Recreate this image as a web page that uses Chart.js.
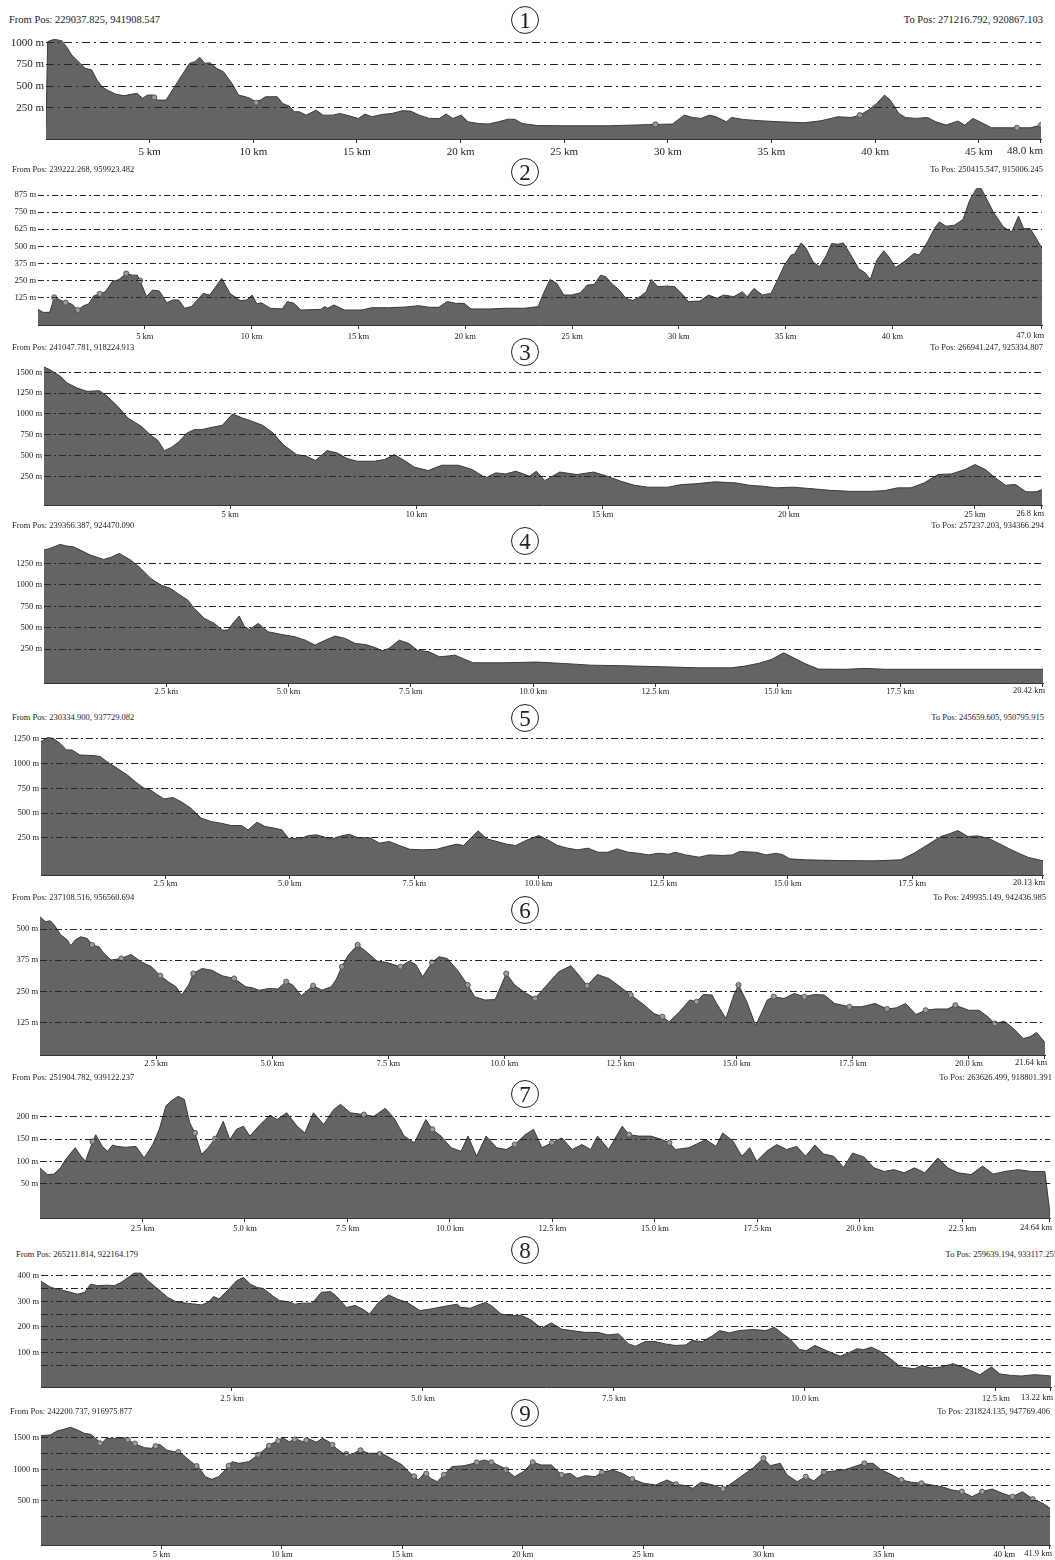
<!DOCTYPE html>
<html>
<head>
<meta charset="utf-8">
<script src="https://cdn.jsdelivr.net/npm/chart.js@4.4.0/dist/chart.umd.min.js"></script>
<style>
  body { margin: 0; background: #fff; width: 1055px; height: 1560px; position: relative; overflow: hidden;
         font-family: "Liberation Serif", "DejaVu Serif", serif; color: #222; }
  .pos { position: absolute; white-space: nowrap; line-height: 1; }
  .num { position: absolute; width: 26px; height: 26px; border: 1.3px solid #222; border-radius: 50%;
         text-align: center; line-height: 27px; font-size: 23px; }
  canvas { position: absolute; left: 0; }
</style>
</head>
<body>
<script>
// profile 1
const km1 = [0,0.08,0.18,0.42,0.75,0.99,1.24,1.56,1.89,2.21,2.46,2.70,2.95,3.35,3.76,4.17,4.41,4.65,4.90,5.14,
  5.39,5.79,6.20,6.61,6.93,7.18,7.42,7.66,7.91,8.23,8.56,8.97,9.29,9.62,9.86,10.10,10.35,10.59,10.84,11.16,
  11.41,11.73,11.98,12.22,12.55,13.03,13.36,13.85,14.17,14.66,15.07,15.39,15.72,16.21,16.70,17.18,17.59,18.00,18.49,18.98,
  19.30,19.63,20.03,20.36,20.85,21.33,21.82,22.31,22.64,22.96,23.70,25.00,27.12,29.40,30.22,30.79,31.19,31.60,32.01,32.33,
  32.82,33.07,33.64,34.45,35.43,36.57,37.39,38.20,38.85,39.26,39.67,40.08,40.45,40.73,41.14,41.46,41.95,42.52,42.93,43.42,
  43.99,44.32,44.72,45.05,45.62,46.84,47.49,48.00];
const elev1 = [40,1010,1023,1038,1023,954,858,781,704,685,569,492,454,408,388,408,415,358,396,396,
  338,338,492,646,762,781,831,762,769,704,665,531,396,377,358,319,338,377,377,377,
  300,269,204,204,165,223,165,165,185,154,127,177,146,173,185,215,212,165,127,127,
  177,127,165,88,69,62,88,119,115,69,45,42,42,58,62,165,138,127,165,146,
  88,138,115,100,88,77,100,146,138,165,223,300,396,338,185,138,127,138,88,50,
  96,50,127,88,19,19,19,50];
const wpKm1 = [5.22,10.14,29.40,39.26,46.84,48.00];
const wpElev1 = [369,308,58,165,19,50];

// profile 2
const km2 = [0,0.24,0.55,0.76,1.03,1.29,1.58,1.86,2.13,2.37,2.60,2.89,3.15,3.47,3.79,4.13,4.42,4.65,4.78,5.08,
  5.36,5.68,6.03,6.31,6.59,6.86,7.18,7.73,8.04,8.60,8.99,9.46,9.78,10.02,10.25,10.44,10.88,11.44,11.67,11.99,
  12.30,13.25,13.41,13.56,13.85,14.35,15.14,15.62,16.40,17.19,17.82,18.30,18.77,19.16,19.56,19.95,20.27,21.14,21.92,
  22.79,23.42,23.66,23.97,24.29,24.61,25.00,25.39,25.71,26.03,26.34,26.58,26.89,27.21,27.52,27.84,28.23,28.47,28.71,29.02,
  29.42,29.81,30.21,30.44,30.99,31.39,31.78,32.10,32.57,32.97,33.20,33.52,33.91,34.31,34.62,34.94,35.25,35.41,35.73,35.96,
  36.28,36.59,36.91,37.15,37.46,37.70,38.01,38.41,38.72,38.96,39.27,39.59,39.83,40.14,40.54,41.01,41.25,41.64,41.96,42.19,
  42.51,42.90,43.30,43.61,43.93,44.16,44.40,44.72,45.19,45.58,45.90,46.14,46.45,46.69,47.00];
const elev2 = [37,15,15,125,106,86,76,32,64,76,135,150,166,239,256,300,288,288,247,130,
  179,171,86,106,106,45,57,154,142,264,154,101,106,142,76,86,45,40,94,81,
  32,37,57,45,69,32,32,49,49,54,64,52,52,94,81,81,40,40,45,
  45,57,154,256,227,142,142,159,215,220,288,276,222,179,118,101,135,166,256,203,
  208,203,142,94,98,142,118,142,130,166,130,190,142,154,252,361,435,442,525,484,
  386,350,435,520,515,525,447,337,305,256,399,467,423,344,386,447,435,532,630,679,
  647,655,696,837,923,923,850,752,642,606,721,630,630,569,484];
const wpKm2 = [0.76,1.29,1.86,2.89,4.13,4.78];
const wpElev2 = [125,86,32,150,300,247];

// profile 3
const km3 = [0,0.16,0.44,0.62,0.89,1.16,1.49,1.70,1.98,2.25,2.61,2.88,3.06,3.23,3.43,3.61,3.84,4.03,4.24,4.51,
  4.79,5.06,5.33,5.60,5.87,6.15,6.42,6.78,7.05,7.29,7.60,7.87,8.14,8.41,8.87,9.14,9.41,9.68,9.95,10.32,
  10.68,11.13,11.50,11.86,12.13,12.40,12.67,13.04,13.22,13.45,13.85,14.31,14.76,15.12,15.49,15.85,16.21,16.75,17.12,17.48,
  18.02,18.57,18.93,19.29,19.66,20.11,20.56,21.11,21.65,22.19,22.56,22.92,23.28,23.64,24.01,24.37,24.73,25.00,25.28,25.55,
  25.82,26.09,26.37,26.64,26.80];
const elev3 = [1564,1532,1452,1372,1311,1271,1279,1211,1091,951,851,740,680,558,600,660,770,811,811,839,
  863,999,951,909,863,771,631,511,491,439,559,531,463,431,431,451,511,439,359,319,
  383,383,331,231,291,279,311,251,311,199,301,271,301,251,191,143,119,119,151,159,
  183,171,143,131,111,119,103,81,69,69,77,111,111,171,271,279,331,391,331,231,
  143,151,63,63,89];

// profile 4
const km4 = [0,0.12,0.33,0.47,0.60,0.74,0.95,1.22,1.36,1.54,1.77,1.98,2.18,2.39,2.59,2.73,2.94,3.07,3.28,3.48,
  3.65,3.76,3.87,3.99,4.10,4.20,4.38,4.58,4.86,5.13,5.34,5.54,5.75,5.95,6.16,6.36,6.57,6.78,6.91,7.05,
  7.26,7.46,7.63,7.87,8.08,8.29,8.40,8.56,8.77,9.38,10.07,10.62,11.17,11.85,12.67,13.36,14.05,14.32,14.60,14.87,
  15.12,15.35,15.55,15.83,16.38,16.79,17.20,18.30,19.40,20.42];
const elev4 = [1406,1425,1472,1452,1445,1406,1347,1297,1320,1367,1289,1192,1075,997,958,900,822,725,608,550,
  472,472,558,636,511,480,550,453,421,394,355,297,355,402,375,316,304,266,231,258,
  355,316,238,219,161,172,180,141,91,91,99,83,63,56,44,32,32,52,83,130,
  207,141,83,17,15,25,15,15,15,15];

// profile 5
const km5 = [0,0.14,0.24,0.38,0.51,0.62,0.78,1.05,1.19,1.32,1.53,1.73,1.93,2.07,2.20,2.34,2.47,2.65,2.81,3.01,
  3.22,3.42,3.62,3.82,4.03,4.16,4.34,4.50,4.70,4.84,4.97,5.18,5.38,5.54,5.72,5.85,5.99,6.19,6.39,6.59,
  6.80,7.00,7.20,7.41,7.68,7.95,8.15,8.35,8.49,8.62,8.78,8.96,9.16,9.36,9.54,9.77,10.00,10.18,10.38,10.58,
  10.78,10.99,11.19,11.39,11.57,11.80,12.00,12.20,12.41,12.61,12.74,12.95,13.22,13.42,13.69,13.89,14.03,14.36,14.57,14.77,
  14.91,15.04,15.38,16.05,16.73,17.27,17.54,17.81,18.08,18.28,18.42,18.62,18.82,19.03,19.23,19.43,19.64,19.84,20.13];
const elev5 = [1223,1264,1257,1206,1139,1139,1088,1082,1072,1021,954,887,803,752,735,685,644,658,617,550,
  449,415,398,375,375,331,409,365,348,331,247,240,274,281,254,240,264,287,247,254,
  197,213,173,135,129,135,163,186,173,240,321,240,213,186,173,230,274,230,173,146,
  129,146,105,105,139,105,95,78,95,85,105,78,55,78,72,78,112,105,78,95,
  78,38,28,21,18,28,95,180,264,297,324,264,270,247,197,146,95,52,18];

// profile 6
const km6 = [0,0.12,0.22,0.30,0.44,0.59,0.66,0.76,0.88,1.02,1.12,1.27,1.38,1.53,1.75,1.96,2.18,2.40,2.59,2.76,
  2.93,3.05,3.20,3.30,3.49,3.70,3.92,4.18,4.43,4.57,4.72,4.93,5.12,5.30,5.44,5.63,5.88,6.07,6.27,6.38,
  6.50,6.64,6.84,7.03,7.25,7.47,7.76,7.95,8.09,8.24,8.44,8.59,8.77,8.99,9.21,9.36,9.58,9.80,10.04,10.22,
  10.44,10.66,10.88,11.17,11.43,11.60,11.78,12.00,12.25,12.54,12.72,12.97,13.22,13.40,13.55,13.77,13.99,14.14,14.28,14.47,
  14.57,14.77,14.94,15.04,15.22,15.41,15.66,15.80,16.02,16.24,16.46,16.67,16.89,17.11,17.43,17.69,17.98,18.24,18.45,18.64,
  18.86,19.07,19.28,19.54,19.71,20.00,20.22,20.41,20.56,20.76,20.96,21.17,21.32,21.46,21.64];
const elev6 = [549,529,533,518,478,456,433,456,469,462,436,429,402,376,382,398,369,349,313,289,
  269,236,276,322,342,335,313,302,269,265,255,262,260,289,276,233,273,255,269,299,
  349,396,436,409,372,366,349,372,358,309,366,389,382,335,276,229,216,218,322,276,
  246,222,269,329,353,316,273,318,302,262,236,202,162,149,129,169,216,209,238,236,
  202,142,236,276,209,113,216,229,222,242,229,238,236,202,189,189,202,180,185,202,
  158,175,180,180,195,175,175,149,122,131,102,62,69,86,46];
const wpKm6 = [1.12,1.75,2.59,3.30,4.18,5.30,5.88,6.50,6.84,7.76,8.44,9.21,10.04,10.66,11.78,12.72,13.40,14.14,15.04,15.80,16.46,17.43,18.24,19.07,19.71,20.56];
const wpElev6 = [436,382,313,322,302,289,273,349,436,349,366,276,322,222,273,236,149,209,276,229,229,189,180,175,195,122];

// profile 7
const km7 = [0,0.18,0.34,0.50,0.62,0.75,0.86,1.00,1.11,1.24,1.36,1.52,1.65,1.77,1.88,2.09,2.34,2.54,2.75,2.91,
  3.07,3.19,3.37,3.52,3.65,3.78,3.94,4.10,4.27,4.47,4.63,4.79,4.96,5.12,5.37,5.61,5.78,6.02,6.27,6.46,
  6.67,6.92,7.16,7.33,7.57,7.90,8.14,8.42,8.63,8.88,9.13,9.41,9.57,9.78,10.03,10.27,10.44,10.65,10.88,11.14,
  11.37,11.58,11.83,12.04,12.24,12.49,12.73,12.98,13.22,13.43,13.60,13.87,14.20,14.37,14.61,14.90,15.18,15.35,15.50,15.83,
  16.24,16.49,16.65,16.90,17.12,17.31,17.48,17.72,17.97,18.21,18.46,18.67,18.90,19.11,19.36,19.60,19.82,20.10,20.34,20.59,
  20.83,21.08,21.33,21.58,21.90,22.14,22.39,22.71,22.99,23.25,23.53,23.86,24.18,24.51,24.64];
const elev7 = [86,71,72,86,104,119,131,112,101,134,160,134,123,137,134,132,134,108,138,172,
  224,235,246,239,187,164,116,131,151,190,149,172,179,157,183,204,194,209,179,164,
  209,183,216,228,209,205,201,219,198,157,142,194,172,157,131,123,157,112,157,131,
  127,138,160,172,131,142,153,127,138,127,157,127,179,160,157,157,149,142,127,131,
  149,134,164,146,112,131,101,123,138,127,134,112,137,117,112,87,119,110,86,78,
  82,75,86,75,108,86,75,71,90,72,78,82,78,78,-20];
const wpKm7 = [1.28,3.78,4.27,7.90,9.57,11.58,12.49,14.37,15.35];
const wpElev7 = [145,164,151,205,172,138,142,160,142];

// profile 8
const km8 = [0,0.13,0.26,0.39,0.48,0.57,0.65,0.74,0.87,0.96,1.05,1.14,1.22,1.31,1.40,1.53,1.66,1.77,1.93,2.10,
  2.19,2.26,2.33,2.46,2.56,2.65,2.74,2.83,2.91,3.03,3.12,3.25,3.32,3.42,3.55,3.67,3.79,3.86,4.00,4.11,
  4.22,4.30,4.42,4.55,4.66,4.79,4.96,5.10,5.27,5.45,5.49,5.62,5.71,5.82,5.91,6.02,6.15,6.28,6.41,6.55,
  6.68,6.81,6.94,7.12,7.29,7.42,7.56,7.69,7.78,7.91,8.04,8.17,8.30,8.44,8.52,8.66,8.79,8.88,9.01,9.14,
  9.32,9.49,9.60,9.71,9.80,9.93,10.02,10.13,10.28,10.46,10.57,10.68,10.77,10.87,10.99,11.12,11.25,11.43,11.53,11.65,
  11.78,11.94,12.09,12.29,12.44,12.55,12.70,12.83,13.01,13.22];
const elev8 = [378,354,345,335,328,335,367,361,363,361,374,393,410,410,380,348,315,298,292,286,
  296,319,309,348,380,393,367,354,350,322,303,298,289,293,293,335,338,322,276,284,
  268,251,296,325,309,296,264,270,280,289,277,273,284,296,280,251,244,246,228,195,
  216,192,186,179,179,169,173,134,125,143,143,134,128,130,147,143,166,186,177,186,
  190,186,199,173,154,112,108,128,108,86,99,115,112,121,104,76,44,37,50,40,
  44,57,40,14,44,17,11,9,14,9];

// profile 9
const km9 = [0,0.39,0.67,0.95,1.23,1.51,1.79,2.07,2.35,2.49,2.71,3.04,3.46,3.74,4.02,4.30,4.58,4.92,5.22,5.50,
  5.78,6.06,6.40,6.59,6.82,7.09,7.37,7.65,7.93,8.21,8.63,9.05,9.33,9.61,9.80,10.03,10.31,10.59,10.87,11.15,
  11.42,11.70,11.98,12.26,12.54,12.88,13.24,13.60,13.94,14.27,14.64,15.00,15.34,15.67,15.95,16.17,16.45,16.79,17.07,17.57,
  17.99,18.41,18.83,19.25,19.66,20.03,20.42,20.78,21.20,21.62,21.98,22.26,22.60,23.02,23.30,23.72,24.13,24.55,25.03,25.53,
  26.00,26.37,26.79,27.07,27.40,27.90,28.32,28.74,29.16,29.58,30.00,30.28,30.70,30.98,31.40,31.76,32.09,32.51,32.93,33.35,
  33.77,34.19,34.55,34.89,35.30,35.73,36.15,36.56,36.98,37.40,37.82,38.24,38.66,39.08,39.50,39.92,40.34,40.76,41.18,41.60,
  41.90];
const elev9 = [1532,1543,1606,1632,1664,1622,1569,1553,1464,1395,1490,1490,1500,1437,1384,1342,1332,1395,1305,1279,
  1268,1174,1068,1015,883,841,883,989,1121,1094,1121,1237,1332,1411,1437,1500,1437,1479,1437,1479,
  1427,1490,1427,1332,1253,1226,1305,1253,1253,1226,1147,1068,936,831,952,857,804,936,1042,1057,
  1094,1147,1094,1015,883,962,1110,1068,1068,910,936,857,899,883,952,989,936,846,778,752,
  831,762,741,699,794,752,688,794,910,1026,1174,1057,1094,910,804,883,815,952,973,989,
  1042,1094,1094,989,920,831,794,778,752,725,673,646,567,646,688,620,567,646,528,462,
  382];
const wpKm9 = [2.45,3.60,3.90,4.76,5.70,6.46,7.79,9.02,9.47,9.85,10.54,11.02,12.10,12.68,13.27,14.07,15.49,16.00,16.73,18.10,
  18.70,19.32,20.42,21.62,23.30,24.55,26.37,28.32,30.00,31.76,32.51,34.19,35.73,36.56,38.24,39.08,40.34,41.18];
const wpElev9 = [1410,1468,1407,1365,1271,1051,1055,1229,1371,1445,1471,1460,1386,1242,1300,1242,888,930,913,1108,
  1110,992,1110,910,952,846,762,688,1174,883,952,1094,831,778,646,646,567,528];

// axis ticks
const xTicks1 = [5,10,15,20,25,30,35,40,45];
const xTicks2 = [5,10,15,20,25,30,35,40];
const xTicks3 = [5,10,15,20,25];
const xTicks4 = [2.5,5,7.5,10,12.5,15,17.5];
const xTicks5 = [2.5,5,7.5,10,12.5,15,17.5];
const xTicks6 = [2.5,5,7.5,10,12.5,15,17.5,20];
const xTicks7 = [2.5,5,7.5,10,12.5,15,17.5,20,22.5];
const xTicks8 = [2.5,5,7.5,10,12.5];
const xTicks9 = [5,10,15,20,25,30,35,40];
const endLabels = ["48.0 km","47.0 km","26.8 km","20.42 km","20.13 km","21.64 km","24.64 km","13.22 km","41.9 km"];

const yTicks1 = [250,500,750,1000];
const yTicks2 = [125,250,375,500,625,750,875];
const yTicks3 = [250,500,750,1000,1250,1500];
const yTicks4 = [250,500,750,1000,1250];
const yTicks5 = [250,500,750,1000,1250];
const yTicks6 = [125,250,375,500];
const yTicks7 = [50,100,150,200];
const yTicks8 = [50,100,150,200,250,300,350,400];
const yTicks9 = [250,500,750,1000,1250,1500];

const fromPos = ["229037.825, 941908.547","239222.268, 959923.482","241047.781, 918224.913","239366.387, 924470.090",
  "230334.900, 937729.082","237108.516, 956560.694","251904.782, 939122.237","265211.814, 922164.179","242200.737, 916975.877"];
const toPos = ["271216.792, 920867.103","250415.547, 915006.245","266941.247, 925334.807","257237.203, 934366.294",
  "245659.605, 950795.915","249935.149, 942436.985","263626.499, 918801.391","259639.194, 933117.255","231824.135, 947769.406"];

// layout of each strip (pixels), kept apart from the data
const panels = [
  { km: km1, elev: elev1, wpKm: wpKm1, wpElev: wpElev1, xTicks: xTicks1, yTicks: yTicks1, xDec: 0, yLabelStep: 250, xMax: 48,
    top: 34, bottom: 139, left: 46, right: 1041, yMin: -110, yMax: 1100, font: 11, tickPad: 3,
    headY: 20, headFont: 10.5, fromX: 9, toRight: 1043, numY: 20, dash: [8,4,2,4] },
  { km: km2, elev: elev2, wpKm: wpKm2, wpElev: wpElev2, xTicks: xTicks2, yTicks: yTicks2, xDec: 0, yLabelStep: 125, xMax: 47,
    top: 185, bottom: 325, left: 38, right: 1042, yMin: -78, yMax: 950, font: 8.5, tickPad: 3,
    headY: 169, headFont: 8.5, fromX: 12, toRight: 1043, numY: 172, dash: [6,3,2,3] },
  { km: km3, elev: elev3, xTicks: xTicks3, yTicks: yTicks3, xDec: 0, yLabelStep: 250, xMax: 26.8,
    top: 364, bottom: 505, left: 44, right: 1042, yMin: -95, yMax: 1600, font: 8.5, tickPad: 1,
    headY: 347, headFont: 8.5, fromX: 12, toRight: 1043, numY: 352, dash: [7,3,2,3] },
  { km: km4, elev: elev4, xTicks: xTicks4, yTicks: yTicks4, xDec: 1, yLabelStep: 250, xMax: 20.42,
    top: 542, bottom: 683, left: 44, right: 1043, yMin: -145, yMax: 1500, font: 8.5, tickPad: 0,
    headY: 525, headFont: 8.5, fromX: 12, toRight: 1044, numY: 541, dash: [7,3,2,3] },
  { km: km5, elev: elev5, xTicks: xTicks5, yTicks: yTicks5, xDec: 1, yLabelStep: 250, xMax: 20.13,
    top: 734, bottom: 875, left: 41, right: 1043, yMin: -125, yMax: 1300, font: 8.5, tickPad: 0,
    headY: 717, headFont: 8.5, fromX: 12, toRight: 1044, numY: 718, dash: [7,3,2,3] },
  { km: km6, elev: elev6, wpKm: wpKm6, wpElev: wpElev6, xTicks: xTicks6, yTicks: yTicks6, xDec: 1, yLabelStep: 125, xMax: 21.64,
    top: 914, bottom: 1055, left: 40, right: 1045, yMin: -4, yMax: 560, font: 8.5, tickPad: 0,
    headY: 897, headFont: 8.5, fromX: 12, toRight: 1046, numY: 910, dash: [7,3,2,3] },
  { km: km7, elev: elev7, wpKm: wpKm7, wpElev: wpElev7, xTicks: xTicks7, yTicks: yTicks7, xDec: 1, yLabelStep: 50, xMax: 24.64,
    top: 1090, bottom: 1218, left: 40, right: 1051, yMin: -26, yMax: 260, font: 8.5, tickPad: 2,
    headY: 1077, headFont: 8.5, fromX: 12, toRight: 1052, numY: 1094, dash: [7,3,2,3] },
  { km: km8, elev: elev8, xTicks: xTicks8, yTicks: yTicks8, xDec: 1, yLabelStep: 100, xMax: 13.22,
    top: 1268, bottom: 1387, left: 41, right: 1051, yMin: -34, yMax: 430, font: 8.5, tickPad: 3,
    headY: 1254, headFont: 8.5, fromX: 16, toRight: 1058, numY: 1250, dash: [7,3,2,3] },
  { km: km9, elev: elev9, wpKm: wpKm9, wpElev: wpElev9, xTicks: xTicks9, yTicks: yTicks9, xDec: 0, yLabelStep: 500, xMax: 41.9,
    top: 1422, bottom: 1545, left: 41, right: 1050, yMin: -198, yMax: 1748, font: 8.5, tickPad: 1,
    headY: 1411, headFont: 8.5, fromX: 10, toRight: 1050, numY: 1413, dash: [7,3,2,3] }
];

const FONT = '"Liberation Serif", "DejaVu Serif", serif';
const PAD_TOP = 12, AXIS_H = 26;

function addText(cls, text, css) {
  const d = document.createElement('div');
  d.className = cls;
  d.textContent = text;
  Object.assign(d.style, css);
  document.body.appendChild(d);
}

function makePanel(p, i) {
  const headTop = Math.round(p.headY - p.headFont / 2) + 'px';
  addText('pos', 'From Pos: ' + fromPos[i], { left: p.fromX + 'px', top: headTop, fontSize: p.headFont + 'px' });
  addText('pos', 'To Pos: ' + toPos[i], { right: (1055 - p.toRight) + 'px', top: headTop, fontSize: p.headFont + 'px' });
  addText('num', String(i + 1), { left: '511px', top: (p.numY - 14) + 'px' });

  const h = p.bottom - p.top + PAD_TOP + AXIS_H;
  const cv = document.createElement('canvas');
  cv.width = 1055; cv.height = h;
  cv.style.width = '1055px'; cv.style.height = h + 'px';
  cv.style.top = (p.top - PAD_TOP) + 'px';
  document.body.appendChild(cv);

  const datasets = [{
    data: p.km.map((d, j) => ({ x: d, y: p.elev[j] })),
    fill: 'start',
    backgroundColor: '#646464',
    borderColor: '#3a3a3a',
    borderWidth: 1,
    pointRadius: 0,
    tension: 0,
    order: 2
  }];
  if (p.wpKm) {
    datasets.push({
      data: p.wpKm.map((d, j) => ({ x: d, y: p.wpElev[j] })),
      showLine: false,
      pointRadius: 2.6,
      pointBackgroundColor: '#9a9a9a',
      pointBorderColor: '#444',
      pointBorderWidth: 0.8,
      order: 1
    });
  }

  // last distance label sits flush with the right end of the axis
  const endLabel = {
    id: 'endLabel' + i,
    afterDraw(chart) {
      const ctx = chart.ctx, xs = chart.scales.x;
      const px = xs.getPixelForValue(p.xMax);
      ctx.save();
      ctx.strokeStyle = '#333';
      ctx.lineWidth = 1;
      ctx.beginPath();
      ctx.moveTo(Math.round(px) - 0.5, xs.top);
      ctx.lineTo(Math.round(px) - 0.5, xs.top + 4);
      ctx.stroke();
      ctx.font = p.font + 'px ' + FONT;
      ctx.fillStyle = '#222';
      ctx.textAlign = 'right';
      ctx.textBaseline = 'top';
      ctx.fillText(endLabels[i], px + 2, xs.top + 4 + p.tickPad);
      ctx.restore();
    }
  };

  new Chart(cv, {
    type: 'line',
    data: { datasets },
    options: {
      responsive: false,
      animation: false,
      events: [],
      layout: { padding: { top: PAD_TOP, right: 1055 - p.right, left: 0, bottom: 0 } },
      plugins: { legend: { display: false }, tooltip: { enabled: false } },
      scales: {
        x: {
          type: 'linear', min: 0, max: p.xMax,
          afterBuildTicks: s => { s.ticks = p.xTicks.map(v => ({ value: v })); },
          afterFit: s => { s.height = AXIS_H; },
          grid: { drawOnChartArea: false, drawTicks: true, tickLength: 4, color: '#333' },
          border: { display: true, color: '#333', width: 1 },
          ticks: {
            autoSkip: false, maxRotation: 0, padding: p.tickPad, color: '#222',
            font: { family: FONT, size: p.font },
            callback: v => v.toFixed(p.xDec) + ' km'
          }
        },
        y: {
          min: p.yMin, max: p.yMax,
          afterBuildTicks: s => { s.ticks = p.yTicks.map(v => ({ value: v })); },
          afterFit: s => { s.width = p.left; },
          grid: { z: 1, color: '#262626', lineWidth: 1, drawTicks: false },
          border: { display: false, dash: p.dash },
          ticks: {
            padding: 2, color: '#222',
            font: { family: FONT, size: p.font },
            callback: v => (v % p.yLabelStep === 0 ? v + ' m' : '')
          }
        }
      }
    },
    plugins: [endLabel]
  });
}

panels.forEach(makePanel);
</script>
</body>
</html>
